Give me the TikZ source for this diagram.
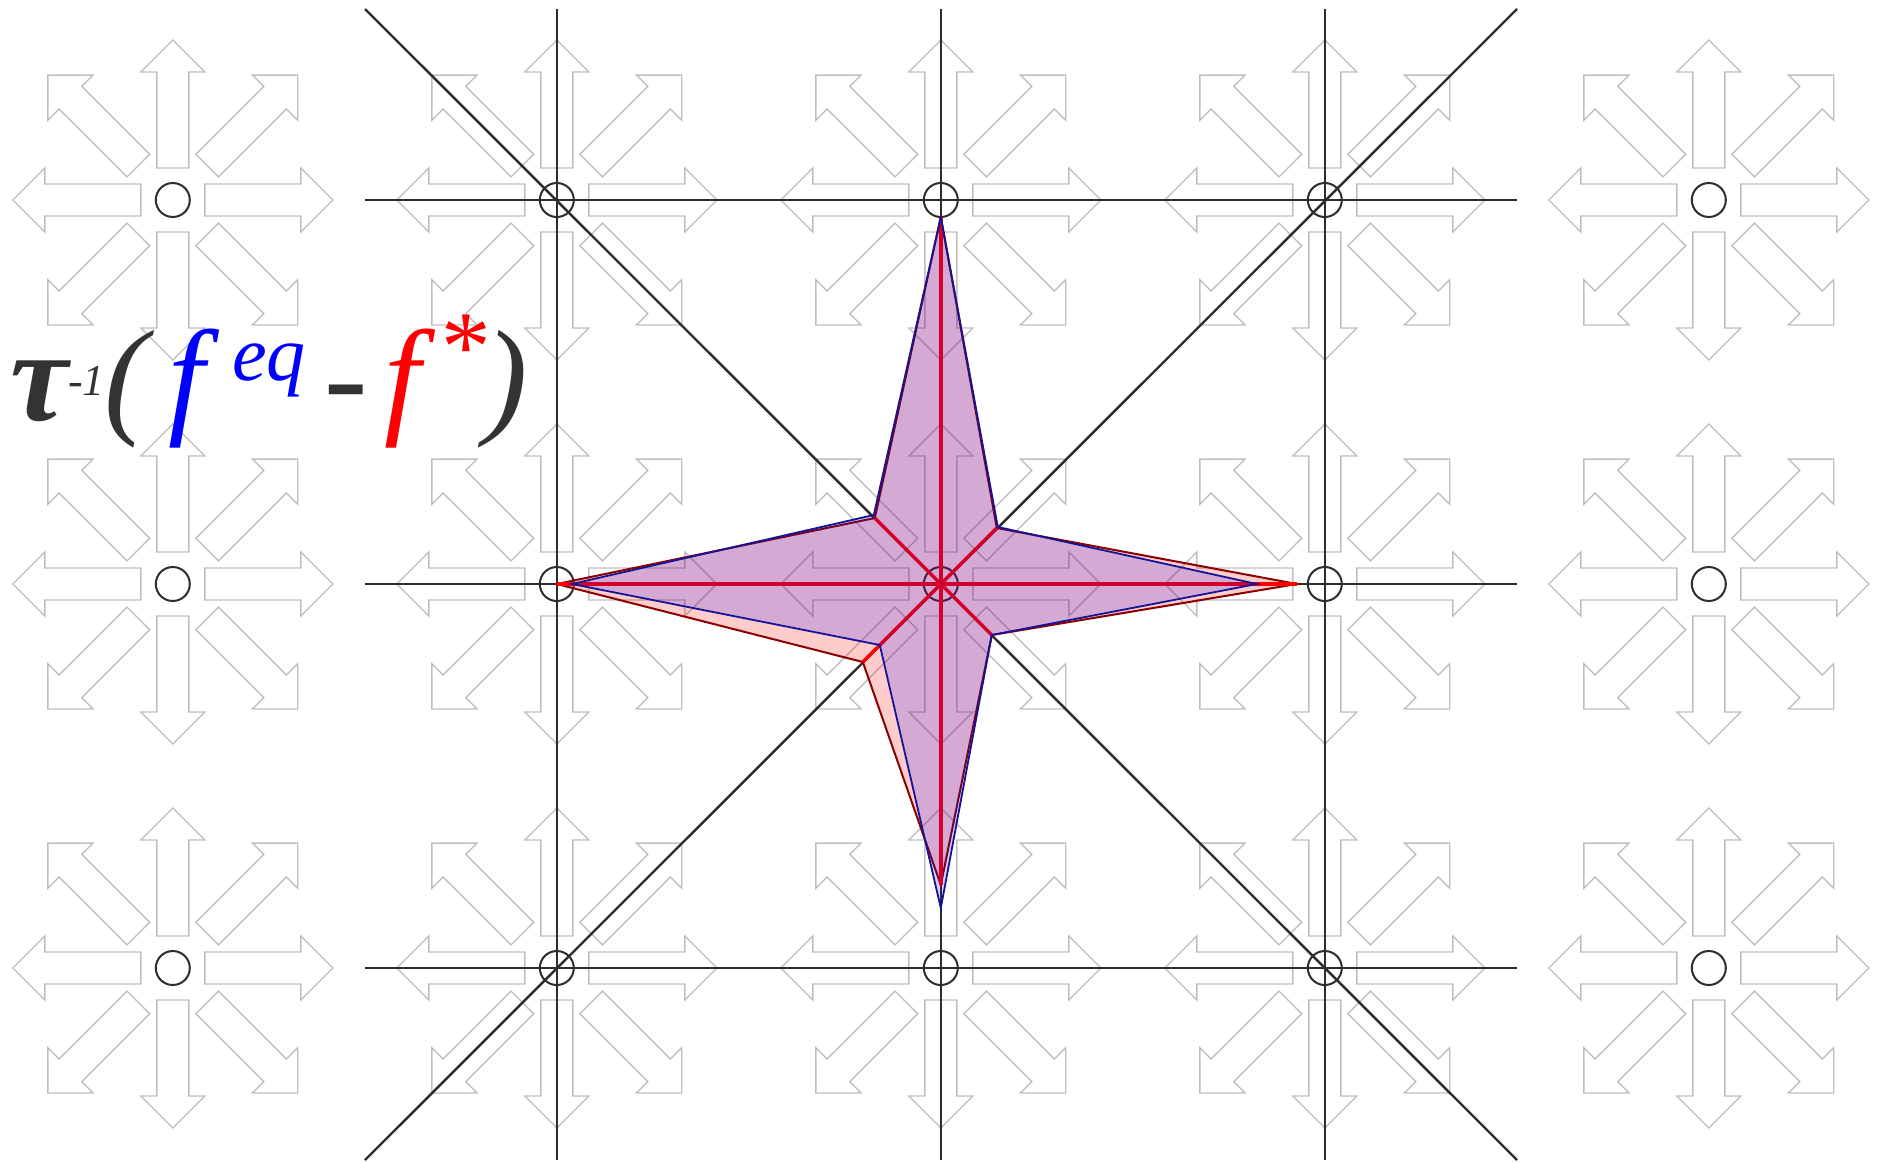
\documentclass[tikz,border=0pt]{standalone}
\usepackage{fontspec}
\newfontfamily\tnr{Liberation Serif}
\definecolor{arrowgray}{RGB}{192,192,192}
\definecolor{gridgray}{RGB}{45,45,45}
\definecolor{txtgray}{RGB}{51,51,51}
\definecolor{fstarout}{RGB}{140,0,0}
\definecolor{feqout}{RGB}{20,20,150}
\definecolor{fblue}{RGB}{0,0,255}
\definecolor{fred}{RGB}{255,0,0}
\begin{document}
\begin{tikzpicture}[x=1pt,y=-1pt,
  lbarrow/.style={draw=arrowgray,line width=1.4pt,line join=miter},
  gridline/.style={draw=gridgray,line width=2.4pt},
  site/.style={circle,draw=gridgray,line width=2pt,minimum size=34pt,inner sep=0pt},
  fstarfill/.style={fill=fred,fill opacity=0.2,draw=fstarout,draw opacity=1,line width=2pt,line join=miter},
  feqfill/.style={fill=fblue,fill opacity=0.17,draw=feqout,draw opacity=1,line width=1.8pt,line join=miter},
  redray/.style={draw=fred,line width=3.4pt},
  big/.style={inner sep=0pt,anchor=base west,font=\tnr\itshape\fontsize{130}{130}\selectfont},
  small/.style={inner sep=0pt,anchor=base west,font=\tnr\itshape\fontsize{44}{44}\selectfont},
  mid/.style={inner sep=0pt,anchor=base west,font=\tnr\itshape\fontsize{78}{78}\selectfont}]
\useasboundingbox (0,0) rectangle (1881,1162);
\fill[white] (0,0) rectangle (1881,1162);
% D2Q9 arrows at every site
\foreach \cx in {172.8,556.8,940.8,1324.8,1708.8}{
  \foreach \cy in {200,584,968}{
    \foreach \ang in {0,90,180,270}{
      \draw[lbarrow,shift={(\cx,\cy)},rotate=\ang]
        (32,-16) -- (128,-16) -- (128,-32) -- (160,0) -- (128,32) -- (128,16) -- (32,16) -- cycle;
    }
    \foreach \ang in {45,135,225,315}{
      \draw[lbarrow,shift={(\cx,\cy)},rotate=\ang]
        (48.7,-16) -- (144.7,-16) -- (144.7,-32) -- (176.7,0) -- (144.7,32) -- (144.7,16) -- (48.7,16) -- cycle;
    }
  }
}
% grid line end points
\foreach \cx [count=\i] in {556.8,940.8,1324.8}{
  \coordinate (vt\i) at (\cx,9);
  \coordinate (vb\i) at (\cx,1160);
}
\foreach \cy [count=\j] in {200,584,968}{
  \coordinate (hl\j) at (365,\cy);
  \coordinate (hr\j) at (1517,\cy);
}
\coordinate (dtl) at (365,9);
\coordinate (dbr) at (1517,1160);
\coordinate (dbl) at (365,1160);
\coordinate (dtr) at (1517,9);
\foreach \i in {1,2,3}{
  \draw[gridline] (vt\i) -- (vb\i);
  \draw[gridline] (hl\i) -- (hr\i);
}
\draw[gridline] (dtl) -- (dbr);
\draw[gridline] (dbl) -- (dtr);
% lattice sites
\foreach \cx [count=\i] in {172.8,556.8,940.8,1324.8,1708.8}{
  \foreach \cy [count=\j] in {200,584,968}{
    \node[site] (s\i\j) at (\cx,\cy) {};
  }
}
% f* star (red) and f^eq star (blue)
\begin{scope}[shift={(940.8,584)}]
  \coordinate (rT) at (0,-367);
  \coordinate (rUR) at (56,-56);
  \coordinate (rR) at (356,0);
  \coordinate (rLR) at (51,51);
  \coordinate (rB) at (0,301);
  \coordinate (rLL) at (-78,78);
  \coordinate (rL) at (-384,0);
  \coordinate (rUL) at (-66,-66);
  \path[fstarfill] (rT) -- (rUR) -- (rR) -- (rLR) -- (rB) -- (rLL) -- (rL) -- (rUL) -- cycle;
  \foreach \v in {rT,rUR,rR,rLR,rB,rLL,rL,rUL}{
    \draw[redray] (s32.center) -- (\v);
  }
  \coordinate (bT) at (0,-367);
  \coordinate (bUR) at (57,-57);
  \coordinate (bR) at (316,0);
  \coordinate (bLR) at (51,51);
  \coordinate (bB) at (0,324);
  \coordinate (bLL) at (-61,61);
  \coordinate (bL) at (-369,0);
  \coordinate (bUL) at (-67,-69);
  \path[feqfill] (bT) -- (bUR) -- (bR) -- (bLR) -- (bB) -- (bLL) -- (bL) -- (bUL) -- cycle;
\end{scope}
% label  tau^-1 ( f^eq - f^* )
\node[big,text=txtgray,font=\tnr\bfseries\itshape\fontsize{130}{130}\selectfont] (tau) at (10,420) {τ};
\node[small,text=txtgray] (taupow) at (68,395) {-1};
\node[big,text=txtgray] (lpar) at (104,420) {(};
\node[big,text=fblue] (feq) at (168,420) {f};
\node[mid,text=fblue] (eqidx) at (232,380) {eq};
\node[big,text=txtgray] (minus) at (324,420) {-};
\node[big,text=fred] (fst) at (384,420) {f};
\node[inner sep=0pt,anchor=base west,font=\tnr\itshape\fontsize{100}{100}\selectfont,text=fred] (star) at (436,380) {*};
\node[big,text=txtgray] (rpar) at (484,420) {)};
\end{tikzpicture}
\end{document}
